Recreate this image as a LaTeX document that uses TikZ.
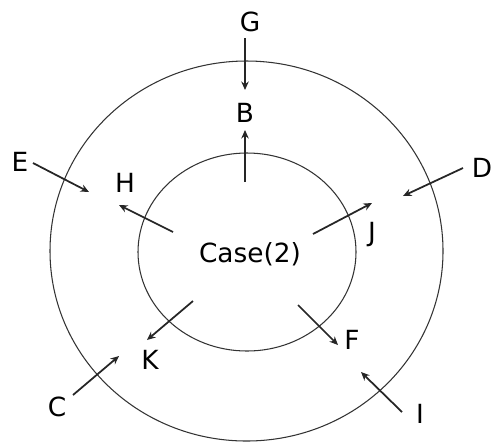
\documentclass[tikz,border=0pt]{standalone}
\usepackage{fontspec}
\setmainfont{DejaVu Sans}
\usepackage{tikz}
\usetikzlibrary{arrows.meta,positioning}

\begin{document}
\begin{tikzpicture}[x=0.02cm, y=-0.02cm,
          lbl/.style={font=\fontsize{15}{17}\selectfont, inner sep=1pt},
          ring/.style={draw=black!80, line width=0.6pt},
          arr/.style={->, line width=1pt, black!85},
          >={Stealth[length=1.7mm, width=1.5mm]}
        ]
          \useasboundingbox (0,0) rectangle (492,444);
          % rings
          \draw[ring] (246.5,251) ellipse [x radius=196.5, y radius=190];
          \draw[ring] (247,252) ellipse [x radius=109, y radius=99];
          % labels
          \node[lbl] (case) at (250,254) {Case(2)};
          \node[lbl] (G) at (250,22) {G};
          \node[lbl] (B) at (245,113) {B};
          \node[lbl] (E) at (20,162) {E};
          \node[lbl] (H) at (125,183) {H};
          \node[lbl] (D) at (482,168) {D};
          \node[lbl] (J) at (372,235) {J};
          \node[lbl] (K) at (150,360) {K};
          \node[lbl] (F) at (352,340) {F};
          \node[lbl] (C) at (57,407) {C};
          \node[lbl] (I) at (420,414) {I};
          % arrow ends
          \coordinate (sG) at (245,38);  \coordinate (eG) at (245,90);
          \coordinate (sB) at (245,182); \coordinate (eB) at (245,130);
          \coordinate (sE) at (33,163);  \coordinate (eE) at (89,192);
          \coordinate (sH) at (173,232); \coordinate (eH) at (119,205);
          \coordinate (sD) at (463,168); \coordinate (eD) at (403,196);
          \coordinate (sJ) at (313,234); \coordinate (eJ) at (372,203);
          \coordinate (sK) at (193,301); \coordinate (eK) at (147,340);
          \coordinate (sF) at (298,305); \coordinate (eF) at (338,345);
          \coordinate (sC) at (73,395);  \coordinate (eC) at (119,356);
          \coordinate (sI) at (402,412); \coordinate (eI) at (361,372);
          % arrows
          \foreach \a in {G,B,E,H,D,J,K,F,C,I}
            \draw[arr] (s\a) -- (e\a);
        \end{tikzpicture}
\end{document}
